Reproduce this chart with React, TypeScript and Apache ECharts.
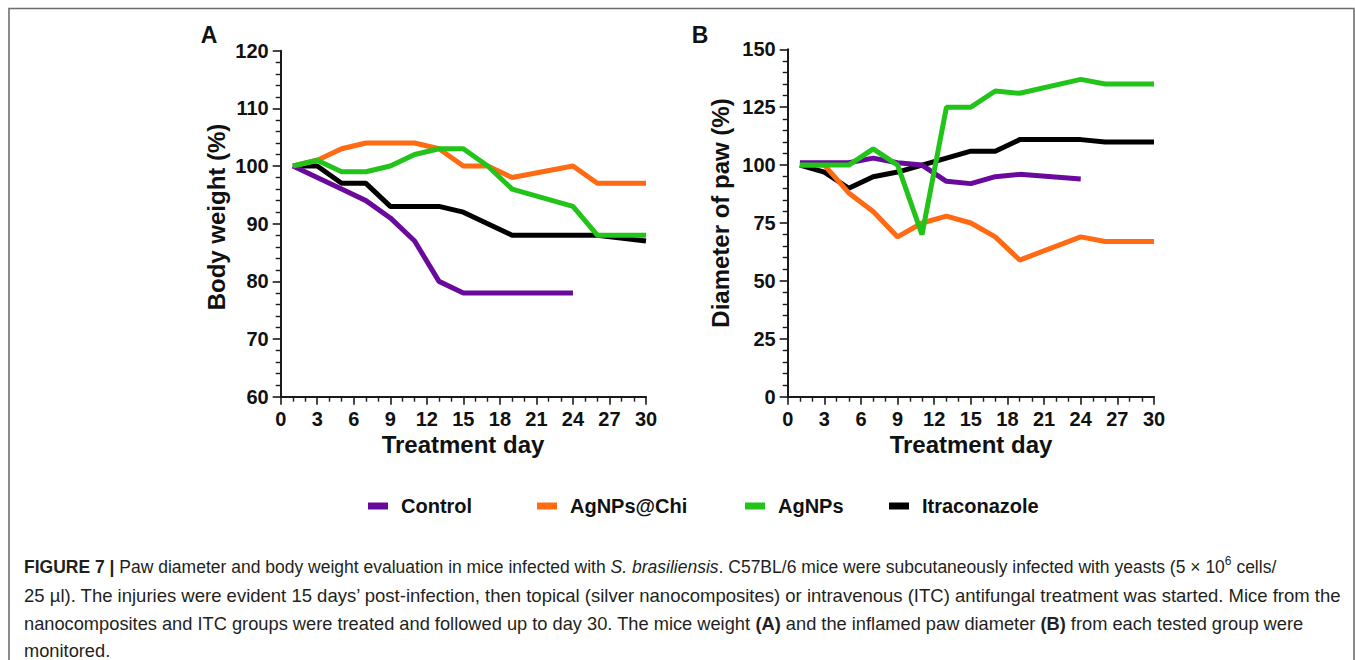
import React, { useEffect, useRef } from "react";
import * as echarts from "echarts";

// Treatment days sampled
const days = [1, 3, 5, 7, 9, 11, 13, 15, 17, 19, 24, 26, 30];

// Panel A: body weight (%)
const controlWeight = [100, 98, 96, 94, 91, 87, 80, 78, 78, 78, 78];
const chiWeight = [100, 101, 103, 104, 104, 104, 103, 100, 100, 98, 100, 97, 97];
const agWeight = [100, 101, 99, 99, 100, 102, 103, 103, 100, 96, 93, 88, 88];
const itcWeight = [100, 100, 97, 97, 93, 93, 93, 92, 90, 88, 88, 88, 87];

// Panel B: diameter of paw (%)
const controlPaw = [101, 101, 101, 103, 101, 100, 93, 92, 95, 96, 94];
const chiPaw = [100, 100, 88, 80, 69, 75, 78, 75, 69, 59, 69, 67, 67];
const agPaw = [100, 100, 100, 107, 100, 70, 125, 125, 132, 131, 137, 135, 135];
const itcPaw = [100, 97, 90, 95, 97, 100, 103, 106, 106, 111, 111, 110, 110];

const groupNames = ["Control", "AgNPs@Chi", "AgNPs", "Itraconazole"];
const groupColors = ["#6a0a9c", "#ff6a13", "#22c41a", "#000000"];

const xTicks = { min: 0, max: 30, interval: 3 };
const yTicksA = { min: 60, max: 120, interval: 10 };
const yTicksB = { min: 0, max: 150, interval: 25 };

const captionLines = [
  "{b|FIGURE 7 |} Paw diameter and body weight evaluation in mice infected with {i|S. brasiliensis}. C57BL/6 mice were subcutaneously infected with yeasts (5 × 10{sup|6} cells/",
  "25 µl). The injuries were evident 15 days’ post-infection, then topical (silver nanocomposites) or intravenous (ITC) antifungal treatment was started. Mice from the",
  "nanocomposites and ITC groups were treated and followed up to day 30. The mice weight {b|(A)} and the inflamed paw diameter {b|(B)} from each tested group were",
  "monitored.",
];

const FONT = "'Liberation Sans', Arial, Helvetica, sans-serif";

function pairs(vals: number[]) {
  return vals.map((v, i) => [days[i], v]);
}

export default function App() {
  const ref = useRef<HTMLDivElement>(null);

  useEffect(() => {
    if (!ref.current) return;
    const chart = echarts.init(ref.current, undefined, { renderer: "svg" });

    const axisLine = { show: true, lineStyle: { color: "#1a1a1a", width: 2 } };
    const axisTick = { show: true, length: 8, lineStyle: { color: "#1a1a1a", width: 1.6 } };
    const minorTick = { show: true, length: 5, lineStyle: { color: "#1a1a1a", width: 1.4 } };
    const axisLabel = {
      color: "#111",
      fontSize: 20,
      fontWeight: "bold",
      fontFamily: FONT,
      margin: 12,
    };

    const mkX = (gridIndex: number) => ({
      type: "value",
      gridIndex,
      min: xTicks.min,
      max: xTicks.max,
      interval: xTicks.interval,
      axisLine,
      axisTick,
      minorTick: { ...minorTick, splitNumber: 3 },
      axisLabel,
      splitLine: { show: false },
      minorSplitLine: { show: false },
    });
    const mkY = (gridIndex: number, t: { min: number; max: number; interval: number }) => ({
      type: "value",
      gridIndex,
      min: t.min,
      max: t.max,
      interval: t.interval,
      axisLine,
      axisTick,
      minorTick: { ...minorTick, splitNumber: 5 },
      axisLabel,
      splitLine: { show: false },
      minorSplitLine: { show: false },
    });

    const panelA = [controlWeight, chiWeight, agWeight, itcWeight];
    const panelB = [controlPaw, chiPaw, agPaw, itcPaw];
    const drawOrder = [3, 1, 0, 2];

    const series: any[] = [];
    [panelA, panelB].forEach((panel, p) => {
      drawOrder.forEach((g) => {
        series.push({
          type: "line",
          name: groupNames[g],
          xAxisIndex: p,
          yAxisIndex: p,
          data: pairs(panel[g]),
          showSymbol: false,
          symbol: "none",
          lineStyle: { color: groupColors[g], width: 5 },
          itemStyle: { color: groupColors[g] },
          z: 2,
        });
      });
    });

    const legendLefts = [368, 537, 745, 889];
    const legends = groupNames.map((name, i) => ({
      show: true,
      left: legendLefts[i],
      top: 496,
      padding: 0,
      orient: "horizontal",
      data: [{ name, icon: "rect" }],
      itemWidth: 20,
      itemHeight: 7,
      selectedMode: false,
      textStyle: {
        color: "#111",
        fontSize: 20,
        fontWeight: "bold",
        fontFamily: FONT,
        padding: [0, 0, 0, 8],
      },
    }));

    const bold = { fontWeight: "bold", fontFamily: FONT, fill: "#111" };

    const graphic: any[] = [
      {
        type: "rect",
        shape: { x: 9, y: 8.5, width: 1345, height: 700 },
        style: { fill: "none", stroke: "#6e6e6e", lineWidth: 1.6 },
        silent: true,
      },
      { type: "text", x: 209, y: 35, style: { ...bold, text: "A", fontSize: 23, align: "center", verticalAlign: "middle" } },
      { type: "text", x: 700, y: 35, style: { ...bold, text: "B", fontSize: 23, align: "center", verticalAlign: "middle" } },
      {
        type: "text",
        x: 216,
        y: 217,
        rotation: Math.PI / 2,
        style: { ...bold, text: "Body weight (%)", fontSize: 24, align: "center", verticalAlign: "middle" },
      },
      {
        type: "text",
        x: 720,
        y: 213,
        rotation: Math.PI / 2,
        style: { ...bold, text: "Diameter of paw (%)", fontSize: 24, align: "center", verticalAlign: "middle" },
      },
      { type: "text", x: 463, y: 444, style: { ...bold, text: "Treatment day", fontSize: 24, align: "center", verticalAlign: "middle" } },
      { type: "text", x: 971, y: 444, style: { ...bold, text: "Treatment day", fontSize: 24, align: "center", verticalAlign: "middle" } },
    ];

    const captionY = [567, 595, 623, 650];
    const captionSize = [17.5, 18.5, 18.25, 18.25];
    const captionLH = [24, 17, 17, 17];
    captionLines.forEach((line, i) => {
      const fs = captionSize[i];
      const lh = captionLH[i];
      graphic.push({
        type: "text",
        x: 24,
        y: captionY[i],
        style: {
          text: line,
          fontSize: fs,
          fontFamily: FONT,
          fill: "#231f20",
          align: "left",
          verticalAlign: "middle",
          lineHeight: lh,
          rich: {
            b: { fontWeight: "bold", fontSize: fs, fontFamily: FONT, fill: "#231f20", lineHeight: lh },
            i: { fontStyle: "italic", fontSize: fs, fontFamily: FONT, fill: "#231f20", lineHeight: lh },
            sup: { fontSize: 12, fontFamily: FONT, fill: "#231f20", verticalAlign: "top", lineHeight: 12 },
          },
        },
      });
    });

    chart.setOption({
      animation: false,
      backgroundColor: "#ffffff",
      grid: [
        { left: 280.7, top: 50.7, width: 365.3, height: 346, containLabel: false, outerBoundsMode: "none" },
        { left: 787.7, top: 49.3, width: 366.3, height: 347.4, containLabel: false, outerBoundsMode: "none" },
      ],
      xAxis: [mkX(0), mkX(1)],
      yAxis: [mkY(0, yTicksA), mkY(1, yTicksB)],
      legend: legends,
      series,
      graphic,
    });

    return () => chart.dispose();
  }, []);

  return (
    <div
      ref={ref}
      style={{ position: "fixed", left: 0, top: 0, width: 1355, height: 660, background: "#fff" }}
    />
  );
}
